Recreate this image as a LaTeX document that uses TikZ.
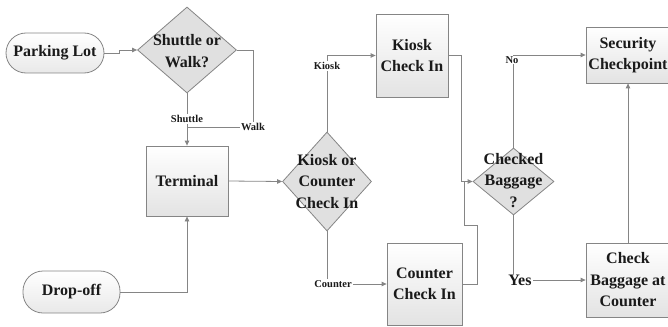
\documentclass[tikz,border=0pt]{standalone}
\usepackage{fontspec}
\setmainfont{Liberation Serif}
\usetikzlibrary{shapes.geometric,arrows.meta}
\definecolor{edge}{HTML}{858585}
\definecolor{ink}{HTML}{1A1A1A}
\definecolor{dfill}{HTML}{E0E0E0}
\definecolor{bfill}{HTML}{E3E3E3}
\tikzset{
  base/.style={draw=edge, line width=0.8pt, inner sep=0pt, text=ink, align=center,
    font=\fontsize{16}{21.5}\selectfont\bfseries},
  procbox/.style={base, rectangle, top color=white, bottom color=bfill},
  capbox/.style={base, rectangle, rounded corners=20pt, top color=white, bottom color=bfill!80},
  decbox/.style={base, diamond, fill=dfill},
  dtext/.style={text=ink, align=center, inner sep=0pt, font=\fontsize{16}{21.5}\selectfont\bfseries},
  flow/.style={draw=edge, line width=0.8pt},
  arr/.style={flow, -{Triangle[length=5pt,width=4.5pt]}},
  tag/.style={font=\fontsize{10.5}{12}\selectfont\bfseries, text=ink, fill=white, inner sep=1pt},
  bigtag/.style={font=\fontsize{16}{18}\selectfont\bfseries, text=ink, fill=white, inner sep=1pt},
}
\begin{document}
\begin{tikzpicture}[x=1pt,y=-1pt]
\useasboundingbox (0,0) rectangle (668,326);

% boxes
\node[capbox, minimum width=98pt, minimum height=40pt] (park) at (55,53) {Parking Lot};
\node[decbox, minimum width=99pt, minimum height=86pt] (sw) at (187,50) {};
\node[dtext] (swt) at (187,51) {Shuttle or\\Walk?};
\node[procbox, minimum width=82pt, minimum height=70pt] (hall) at (187,181) {Terminal};
\node[capbox, minimum width=97pt, minimum height=42pt] (drop) at (71.5,292) {Drop-off};
\node[decbox, minimum width=89pt, minimum height=99pt] (kc) at (327,181.5) {};
\node[dtext] (kct) at (327,181.5) {Kiosk or\\Counter\\Check In};
\node[procbox, minimum width=72pt, minimum height=83pt] (kiosk) at (412,55.5) {Kiosk\\Check In};
\node[procbox, minimum width=75pt, minimum height=82pt] (counter) at (424.5,284) {Counter\\Check In};
\node[decbox, minimum width=81pt, minimum height=67pt] (cb) at (513.5,181.5) {};
\node[dtext] (cbt) at (513.5,180.5) {Checked\\Baggage\\?};
\node[procbox, minimum width=84pt, minimum height=56pt] (sec) at (628,55) {Security\\Checkpoint};
\node[procbox, minimum width=84pt, minimum height=74pt] (cbc) at (628,280) {Check\\Baggage at\\Counter};

% connectors
\draw[arr] (park.east) -- ++(15,0) |- (sw.west);
\coordinate (wk) at (253,127);
\draw[flow] (sw.east) -| (wk) -- (wk -| hall.north);
\draw[arr] (sw.south) -- (hall.north);
\node[tag] (lshuttle) at (187,119) {Shuttle};
\node[tag] (lwalk) at (wk) {Walk};
\draw[arr] (drop.east) -| (hall.south);
\draw[arr] (hall.east) -- (kc.west);
\draw[arr] (kc.north) |- (kiosk.west);
\node[tag] (lkiosk) at (327,66) {Kiosk};
\draw[arr] (kc.south) |- (counter.west);
\node[tag] (lcounter) at (333,284) {Counter};
\draw[arr] (kiosk.east) -- ++(13,0) |- (cb.west);
\draw[flow] (counter.east) -- ++(15,0) -- ++(0,-59) -- ++(-13,0) -- ++(0,-43);
\draw[arr] (cb.north) |- (sec.west);
\node[tag] (lno) at (512,60) {No};
\draw[arr] (cb.south) |- (cbc.west);
\node[bigtag] (lyes) at (520,280) {Yes};
\draw[arr] (cbc.north) -- (sec.south);
\end{tikzpicture}
\end{document}
